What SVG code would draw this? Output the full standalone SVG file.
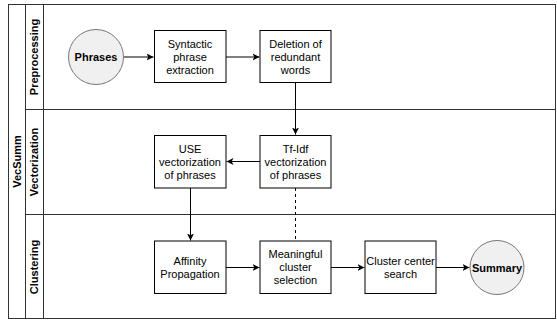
<svg xmlns="http://www.w3.org/2000/svg" width="557" height="322" viewBox="0 0 557 322">
<style>
.frame{fill:none;stroke:#333;stroke-width:1}
.box{fill:#fff;stroke:#000;stroke-width:1}
.term{fill:#f0f0f0;stroke:#777;stroke-width:1}
.t{font-family:"Liberation Sans",Arial,sans-serif;font-size:11px;fill:#000;text-anchor:middle}
.b{font-weight:bold}
.c{stroke:#000;stroke-width:1;fill:none}
</style>
<defs>
<marker id="arr" markerWidth="8" markerHeight="8" refX="7" refY="4" orient="auto" markerUnits="userSpaceOnUse">
<path d="M0,0.5 L7,4 L0,7.5 L1.8,4 Z" fill="#000"/>
</marker>
</defs>
<rect fill="#fff" x="0" y="0" width="557" height="322"/>
<g id="pool">
<rect class="frame" x="8.5" y="4.5" width="547" height="314"/>
<line class="frame" x1="25.5" y1="4.5" x2="25.5" y2="318.5"/>
<line class="frame" x1="43.5" y1="4.5" x2="43.5" y2="318.5"/>
<line class="frame" x1="25.5" y1="109.5" x2="555.5" y2="109.5"/>
<line class="frame" x1="25.5" y1="214.5" x2="555.5" y2="214.5"/>
<text class="t b" transform="translate(20.5,161.5) rotate(-90)">VecSumm</text>
<text class="t b" transform="translate(38,57) rotate(-90)">Preprocessing</text>
<text class="t b" transform="translate(38,162) rotate(-90)">Vectorization</text>
<text class="t b" transform="translate(38,267) rotate(-90)">Clustering</text>
</g>
<g id="connectors">
<line class="c" x1="123.5" y1="57" x2="153.5" y2="57" marker-end="url(#arr)"/>
<line class="c" x1="226" y1="57" x2="259.5" y2="57" marker-end="url(#arr)"/>
<line class="c" x1="295.5" y1="82" x2="295.5" y2="134.5" marker-end="url(#arr)"/>
<line class="c" x1="260" y1="161.5" x2="226.5" y2="161.5" marker-end="url(#arr)"/>
<line class="c" x1="190.5" y1="188" x2="190.5" y2="240.5" marker-end="url(#arr)"/>
<line class="c" x1="295.5" y1="188" x2="295.5" y2="241" stroke-dasharray="3,3"/>
<line class="c" x1="226" y1="267.5" x2="259.5" y2="267.5" marker-end="url(#arr)"/>
<line class="c" x1="331" y1="267.5" x2="364.5" y2="267.5" marker-end="url(#arr)"/>
<line class="c" x1="436" y1="267.5" x2="469.5" y2="267.5" marker-end="url(#arr)"/>
</g>
<g id="phrases">
<circle class="term" cx="96" cy="57" r="27.5"/>
<text class="t b" x="96" y="61">Phrases</text>
</g>
<g id="syntactic">
<rect class="box" x="154.5" y="30.5" width="71.5" height="52"/>
<text class="t" x="190" y="48">Syntactic</text>
<text class="t" x="190" y="61">phrase</text>
<text class="t" x="190" y="74">extraction</text>
</g>
<g id="deletion">
<rect class="box" x="260" y="30.5" width="71" height="52"/>
<text class="t" x="295.5" y="48">Deletion of</text>
<text class="t" x="295.5" y="61">redundant</text>
<text class="t" x="295.5" y="74">words</text>
</g>
<g id="tfidf">
<rect class="box" x="260" y="135.5" width="71" height="52.5"/>
<text class="t" x="295.5" y="153">Tf-Idf</text>
<text class="t" x="295.5" y="166">vectorization</text>
<text class="t" x="295.5" y="179">of phrases</text>
</g>
<g id="use">
<rect class="box" x="154.5" y="135.5" width="71.5" height="52.5"/>
<text class="t" x="190" y="153">USE</text>
<text class="t" x="190" y="166">vectorization</text>
<text class="t" x="190" y="179">of phrases</text>
</g>
<g id="affinity">
<rect class="box" x="154.5" y="241" width="71.5" height="52.5"/>
<text class="t" x="190" y="265">Affinity</text>
<text class="t" x="190" y="278">Propagation</text>
</g>
<g id="meaningful">
<rect class="box" x="260" y="241" width="71" height="52.5"/>
<text class="t" x="295.5" y="258">Meaningful</text>
<text class="t" x="295.5" y="271">cluster</text>
<text class="t" x="295.5" y="284">selection</text>
</g>
<g id="center">
<rect class="box" x="365" y="241" width="71" height="52.5"/>
<text class="t" x="400.5" y="265">Cluster center</text>
<text class="t" x="400.5" y="278">search</text>
</g>
<g id="summary">
<circle class="term" cx="497" cy="267.5" r="27"/>
<text class="t b" x="497" y="271.5">Summary</text>
</g>
</svg>
